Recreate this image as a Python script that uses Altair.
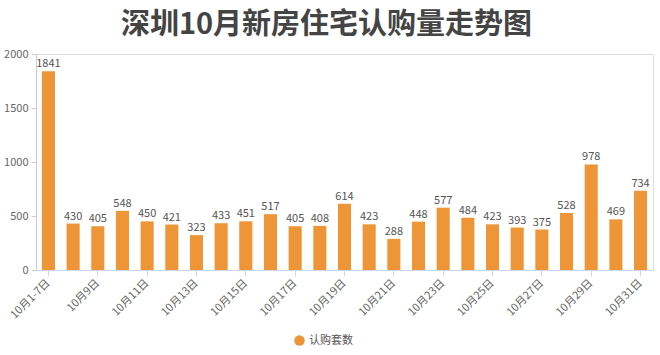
import altair as alt
import pandas as pd

categories = ["10月1-7日"] + [f"10月{d}日" for d in range(8, 32)]
values = [1841, 430, 405, 548, 450, 421, 323, 433, 451, 517, 405, 408, 614,
          423, 288, 448, 577, 484, 423, 393, 375, 528, 978, 469, 734]
series_name = "认购套数"
tick_labels = categories[::2]

df = pd.DataFrame({"date": categories, "value": values, "series": series_name})

FONT = "Noto Sans CJK SC"
ORANGE = "#EE9537"

x = alt.X("date:N", sort=categories, title=None,
          scale=alt.Scale(paddingInner=0.47, paddingOuter=0.24),
          axis=alt.Axis(values=tick_labels, labelAngle=-45, labelAlign="right",
                        labelBaseline="middle", labelColor="#666", labelFontSize=11,
                        labelFont=FONT, domainColor="#ccd6eb", tickColor="#ccd6eb",
                        tickSize=6, labelPadding=5, grid=False))

y = alt.Y("value:Q", title=None,
          scale=alt.Scale(domain=[0, 2000]),
          axis=alt.Axis(values=[0, 500, 1000, 1500, 2000], format="d", labelColor="#666",
                        labelFontSize=11, labelFont=FONT, domainColor="#ccc",
                        tickColor="#ccc", tickSize=5, labelPadding=3, grid=False))

bars = alt.Chart(df).mark_bar(color=ORANGE).encode(
    x=x, y=y,
    color=alt.Color("series:N", scale=alt.Scale(range=[ORANGE]),
                    legend=alt.Legend(title=None, orient="none", legendX=258, legendY=281,
                                      symbolType="circle", symbolSize=110,
                                      symbolStrokeWidth=0, labelFontSize=11,
                                      labelColor="#555", labelFont=FONT)),
)

labels = alt.Chart(df).mark_text(dy=-7, fontSize=11, color="#555", font=FONT).encode(
    x=alt.X("date:N", sort=categories), y="value:Q", text="value:Q"
)

chart = (bars + labels).properties(
    width=617, height=216,
    title=alt.TitleParams("深圳10月新房住宅认购量走势图", fontSize=29, fontWeight="bold",
                          color="#444", font=FONT, anchor="middle", dx=-18, offset=8),
    autosize=alt.AutoSizeParams(type="none"),
    padding={"left": 36, "top": 54, "right": 7, "bottom": 85},
).configure_view(stroke=None).configure(background="white")

chart.save("out.html", embed_options={"renderer": "svg", "actions": False})
